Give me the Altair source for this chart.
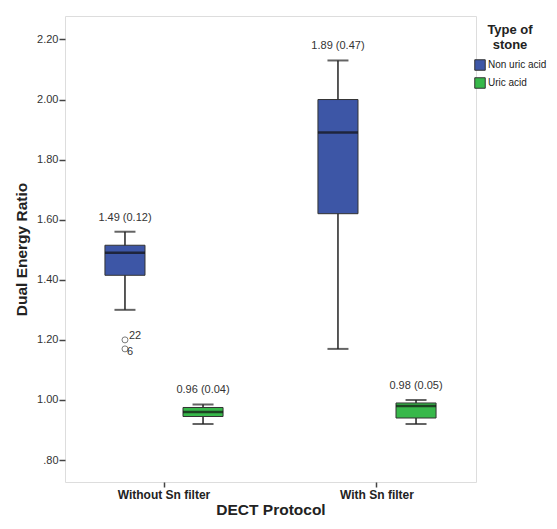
import altair as alt
import pandas as pd

# ---- data ----
protocol = ["Without Sn filter", "Without Sn filter", "With Sn filter", "With Sn filter"]
stone = ["Non uric acid", "Uric acid", "Non uric acid", "Uric acid"]
lower = [1.30, 0.92, 1.17, 0.92]
q1 = [1.415, 0.945, 1.62, 0.94]
median = [1.49, 0.96, 1.89, 0.98]
q3 = [1.515, 0.975, 2.00, 0.99]
upper = [1.56, 0.985, 2.13, 1.00]
labels = ["1.49 (0.12)", "0.96 (0.04)", "1.89 (0.47)", "0.98 (0.05)"]

out_protocol = ["Without Sn filter", "Without Sn filter"]
out_stone = ["Non uric acid", "Non uric acid"]
out_value = [1.20, 1.17]
out_id = ["22", "6"]
out_dy = [-4, 3]

protocol_order = ["Without Sn filter", "With Sn filter"]
stone_order = ["Non uric acid", "Uric acid"]
stone_colors = ["#3d56a6", "#37b84a"]
y_ticks = [0.8, 1.0, 1.2, 1.4, 1.6, 1.8, 2.0, 2.2]

df = pd.DataFrame({"protocol": protocol, "stone": stone, "lower": lower, "q1": q1,
                   "median": median, "q3": q3, "upper": upper, "label": labels})
odf = pd.DataFrame({"protocol": out_protocol, "stone": out_stone, "value": out_value,
                    "id": out_id, "dy": out_dy})

FONT = "Liberation Sans"

x_enc = alt.X("protocol:N", sort=protocol_order,
              scale=alt.Scale(paddingInner=0.3, paddingOuter=0.1148),
              axis=alt.Axis(title="DECT Protocol", labelAngle=0, labelFontWeight="bold",
                            labelFontSize=12, labelColor="#222", tickSize=5,
                            tickColor="#444", tickWidth=1.5, labelPadding=2, titlePadding=2,
                            titleFontSize=15.5, titleFontWeight="bold", titleColor="#222",
                            domain=False))
xo_enc = alt.XOffset("stone:N", sort=stone_order,
                     scale=alt.Scale(paddingInner=0.487, paddingOuter=0.1985))
y_scale = alt.Scale(domain=[0.727, 2.278], nice=False, zero=False)
y_axis = alt.Axis(title="Dual Energy Ratio", values=y_ticks,
                  labelExpr="datum.value < 1 ? substring(format(datum.value, '.2f'), 1) : format(datum.value, '.2f')",
                  labelFontSize=11, labelColor="#333", tickSize=6, tickColor="#444",
                  tickWidth=1.5, labelPadding=1, titlePadding=7, titleFontSize=15.5,
                  titleFontWeight="bold", titleColor="#222", grid=False, domain=False)

base = alt.Chart(df)

whisker = base.mark_rule(color="#222", strokeWidth=1.5).encode(
    x=x_enc, xOffset=xo_enc,
    y=alt.Y("lower:Q", scale=y_scale, axis=y_axis), y2="upper:Q")

caps_low = base.mark_tick(color="#222", size=21, thickness=2, orient="horizontal").encode(
    x=x_enc, xOffset=xo_enc, y=alt.Y("lower:Q", scale=y_scale))
caps_up = base.mark_tick(color="#222", size=21, thickness=2, orient="horizontal").encode(
    x=x_enc, xOffset=xo_enc, y=alt.Y("upper:Q", scale=y_scale))

box = base.mark_bar(stroke="#333", strokeWidth=1).encode(
    x=x_enc, xOffset=xo_enc,
    y=alt.Y("q1:Q", scale=y_scale), y2="q3:Q",
    fill=alt.Fill("stone:N", sort=stone_order,
                  scale=alt.Scale(domain=stone_order, range=stone_colors),
                  legend=alt.Legend(title=["Type of", "stone"], orient="none",
                                    legendX=409, legendY=8, titleFontSize=13,
                                    titleFontWeight="bold", titleColor="#222",
                                    titleLineHeight=15,
                                    titleAlign="center", titleAnchor="middle",
                                    labelFontSize=10, labelColor="#222",
                                    symbolType="square", symbolSize=110,
                                    symbolStrokeColor="#333", symbolStrokeWidth=1,
                                    symbolOpacity=1, rowPadding=2, titlePadding=7,
                                    labelOffset=2)))

med = base.mark_tick(color="#111", size=40, thickness=2.5, orient="horizontal").encode(
    x=x_enc, xOffset=xo_enc, y=alt.Y("median:Q", scale=y_scale))

txt = base.mark_text(font=FONT, fontSize=11, color="#333", dy=-14).encode(
    x=x_enc, xOffset=xo_enc, y=alt.Y("upper:Q", scale=y_scale), text="label:N")

opts = alt.Chart(odf).mark_point(shape="circle", filled=False, color="#444",
                                 size=36, strokeWidth=1).encode(
    x=x_enc, xOffset=xo_enc, y=alt.Y("value:Q", scale=y_scale))

otxt_a = alt.Chart(odf).transform_filter("datum.dy < 0").mark_text(
    font=FONT, fontSize=11, color="#333", align="left", dx=4, dy=-4).encode(
    x=x_enc, xOffset=xo_enc, y=alt.Y("value:Q", scale=y_scale), text="id:N")
otxt_b = alt.Chart(odf).transform_filter("datum.dy > 0").mark_text(
    font=FONT, fontSize=11, color="#333", align="left", dx=2, dy=3).encode(
    x=x_enc, xOffset=xo_enc, y=alt.Y("value:Q", scale=y_scale), text="id:N")

chart = alt.layer(whisker, caps_low, caps_up, box, med, txt, opts, otxt_a, otxt_b).properties(
    width=411, height=466,
    autosize=alt.AutoSizeParams(type="none"),
    padding={"left": 57, "top": 8, "right": 73, "bottom": 39},
).configure_view(fill="#eeefef", stroke="#707070", strokeWidth=2).configure(
    font=FONT, background="white")

chart.save("out.html", embed_options={"renderer": "svg", "actions": False})
